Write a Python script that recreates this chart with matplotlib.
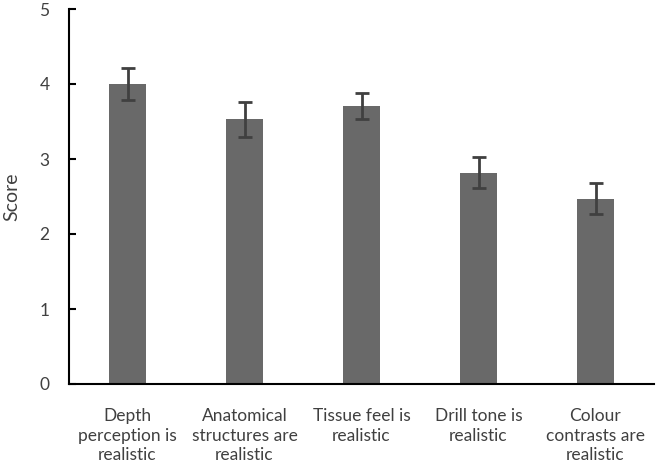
import matplotlib
matplotlib.use("Agg")
import matplotlib.pyplot as plt
import numpy as np

categories = ["Depth\nperception is\nrealistic",
              "Anatomical\nstructures are\nrealistic",
              "Tissue feel is\nrealistic",
              "Drill tone is\nrealistic",
              "Colour\ncontrasts are\nrealistic"]
scores = [4.00, 3.53, 3.71, 2.82, 2.47]
errors = [0.21, 0.23, 0.17, 0.21, 0.21]
yticks = [0, 1, 2, 3, 4, 5]

plt.rcParams['font.family'] = ['Lato', 'DejaVu Sans']

fig = plt.figure(figsize=(6.56, 4.70), dpi=100)
ax = fig.add_axes([69/656, 1-384/470, (654-69)/656, (384-9)/470])

x = np.arange(len(categories))
ax.bar(x, scores, width=0.31, color='#696969', zorder=2)
ax.errorbar(x, scores, yerr=errors, fmt='none', ecolor='#404040',
            elinewidth=2, capsize=5, capthick=2, zorder=3)

ax.set_xlim(-0.5, len(categories)-0.5)
ax.set_ylim(0, 5)
ax.set_yticks(yticks)
ax.set_yticklabels([str(t) for t in yticks])
ax.set_xticks(x)
ax.set_xticklabels(categories, linespacing=1.3)

for s in ['top', 'right']:
    ax.spines[s].set_visible(False)
for s in ['left', 'bottom']:
    ax.spines[s].set_linewidth(1.5)
    ax.spines[s].set_color('black')

ax.tick_params(axis='y', direction='in', length=5, width=1.5, pad=14,
               labelsize=12.5, labelcolor='#404040')
ax.tick_params(axis='x', length=0, pad=17, labelsize=12.5, labelcolor='#404040')
ax.set_ylabel("Score", fontsize=14, color='#404040', labelpad=14)

fig.savefig("out.png", dpi=100)
